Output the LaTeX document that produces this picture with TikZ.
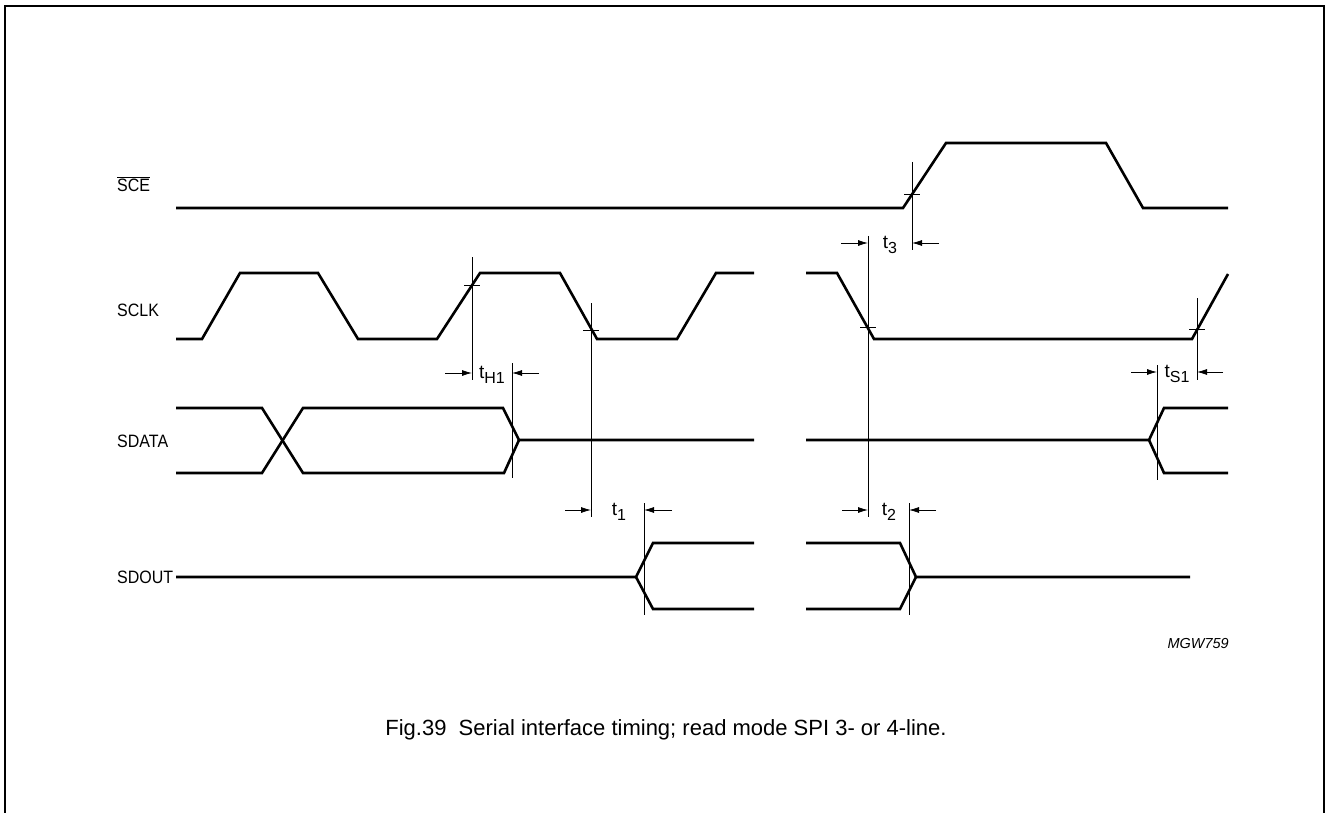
\documentclass[tikz,border=0pt]{standalone}
\usepackage{fontspec}
\setmainfont{Liberation Sans}
\usetikzlibrary{arrows.meta}

% label t with subscript
\newcommand{\tlab}[1]{t\raisebox{-0.5ex}{\fontsize{16}{18}\selectfont #1}}
% slightly taller signal names
\newcommand{\tallname}[1]{\scalebox{1}[1.12]{#1}}

\begin{document}
\begin{tikzpicture}[
    x=1pt,
    y=-1pt,
    line join=miter,
    sig/.style={line width=2.6pt},
    thin line/.style={line width=0.8pt},
    dim/.style={line width=0.8pt, -{Latex[length=10pt,width=6pt]}},
    signame/.style={anchor=west, inner sep=0pt, font=\fontsize{16}{18}\selectfont},
    tname/.style={inner sep=0pt, font=\fontsize{19}{21}\selectfont}
]
    \useasboundingbox (0,0) rectangle (1328,813);

    % frame
    \draw[line width=1.8pt] (5,813) -- (5,6) -- (1324,6) -- (1324,813);

    % signal names
    \node[signame] (nSCE)   at (117,184) {\tallname{$\overline{\mbox{SCE}}$}};
    \node[signame] (nSCLK)  at (117,310) {\tallname{SCLK}};
    \node[signame] (nSDATA) at (117,441) {\tallname{SDATA}};
    \node[signame] (nSDOUT) at (117,577) {\tallname{SDOUT}};

    % SCE
    \draw[sig] (176,208) -- (903,208) -- (946,143) -- (1106,143) -- (1143,208) -- (1228,208);

    % SCLK
    \draw[sig] (176,339) -- (202,339) -- (240,273) -- (318,273) -- (358,339) -- (437,339)
        -- (480,273) -- (560,273) -- (597,339) -- (677,339) -- (716,273) -- (754,273);
    \draw[sig] (806,273) -- (837,273) -- (874,339) -- (1192,339) -- (1228,274);

    % SDATA
    \draw[sig] (176,408) -- (262,408) -- (303,473) -- (504,473) -- (519,440);
    \draw[sig] (176,473) -- (262,473) -- (303,408) -- (503,408) -- (519,440) -- (754,440);
    \draw[sig] (806,440) -- (1149,440) -- (1164,408) -- (1228,408);
    \draw[sig] (1149,440) -- (1164,473) -- (1228,473);

    % SDOUT
    \draw[sig] (176,577) -- (636,577) -- (653,543) -- (754,543);
    \draw[sig] (636,577) -- (653,609) -- (754,609);
    \draw[sig] (806,543) -- (900,543) -- (916,577) -- (1190,577);
    \draw[sig] (806,609) -- (900,609) -- (916,577);

    % reference lines and crossing marks
    \draw[thin line] (912,162) -- (912,250);
    \draw[thin line] (904,194) -- (920,194);
    \draw[thin line] (472,257) -- (472,380);
    \draw[thin line] (464,285) -- (480,285);
    \draw[thin line] (512,363) -- (512,478);
    \draw[thin line] (591,303) -- (591,517);
    \draw[thin line] (583,330) -- (599,330);
    \draw[thin line] (644,503) -- (644,615);
    \draw[thin line] (868,236) -- (868,517);
    \draw[thin line] (860,327) -- (876,327);
    \draw[thin line] (909,503) -- (909,615);
    \draw[thin line] (1197,298) -- (1197,380);
    \draw[thin line] (1189,329) -- (1205,329);
    \draw[thin line] (1157,365) -- (1157,480);

    % t3
    \draw[dim] (841,243) -- (868,243);
    \draw[dim] (939,243) -- (912,243);
    \node[tname] (t3) at (890,245) {\tlab{3}};

    % tH1
    \draw[dim] (445,373) -- (472,373);
    \draw[dim] (539,373) -- (512,373);
    \node[tname] (tH1) at (492,375) {\tlab{H1}};

    % t1
    \draw[dim] (565,510) -- (591,510);
    \draw[dim] (672,510) -- (644,510);
    \node[tname] (t1) at (619,512) {\tlab{1}};

    % t2
    \draw[dim] (842,510) -- (868,510);
    \draw[dim] (936,510) -- (909,510);
    \node[tname] (t2) at (889,512) {\tlab{2}};

    % tS1
    \draw[dim] (1131,372) -- (1157,372);
    \draw[dim] (1223,372) -- (1197,372);
    \node[tname] (tS1) at (1177,374) {\tlab{S1}};

    % figure code and caption
    \node[anchor=east, inner sep=0pt, font=\fontsize{14.5}{16}\selectfont\itshape] (code) at (1229,644) {MGW759};
    \node[inner sep=0pt, font=\fontsize{22}{24}\selectfont] (caption) at (666,730)
        {Fig.39\ \ Serial interface timing; read mode SPI 3- or 4-line.};
\end{tikzpicture}
\end{document}
